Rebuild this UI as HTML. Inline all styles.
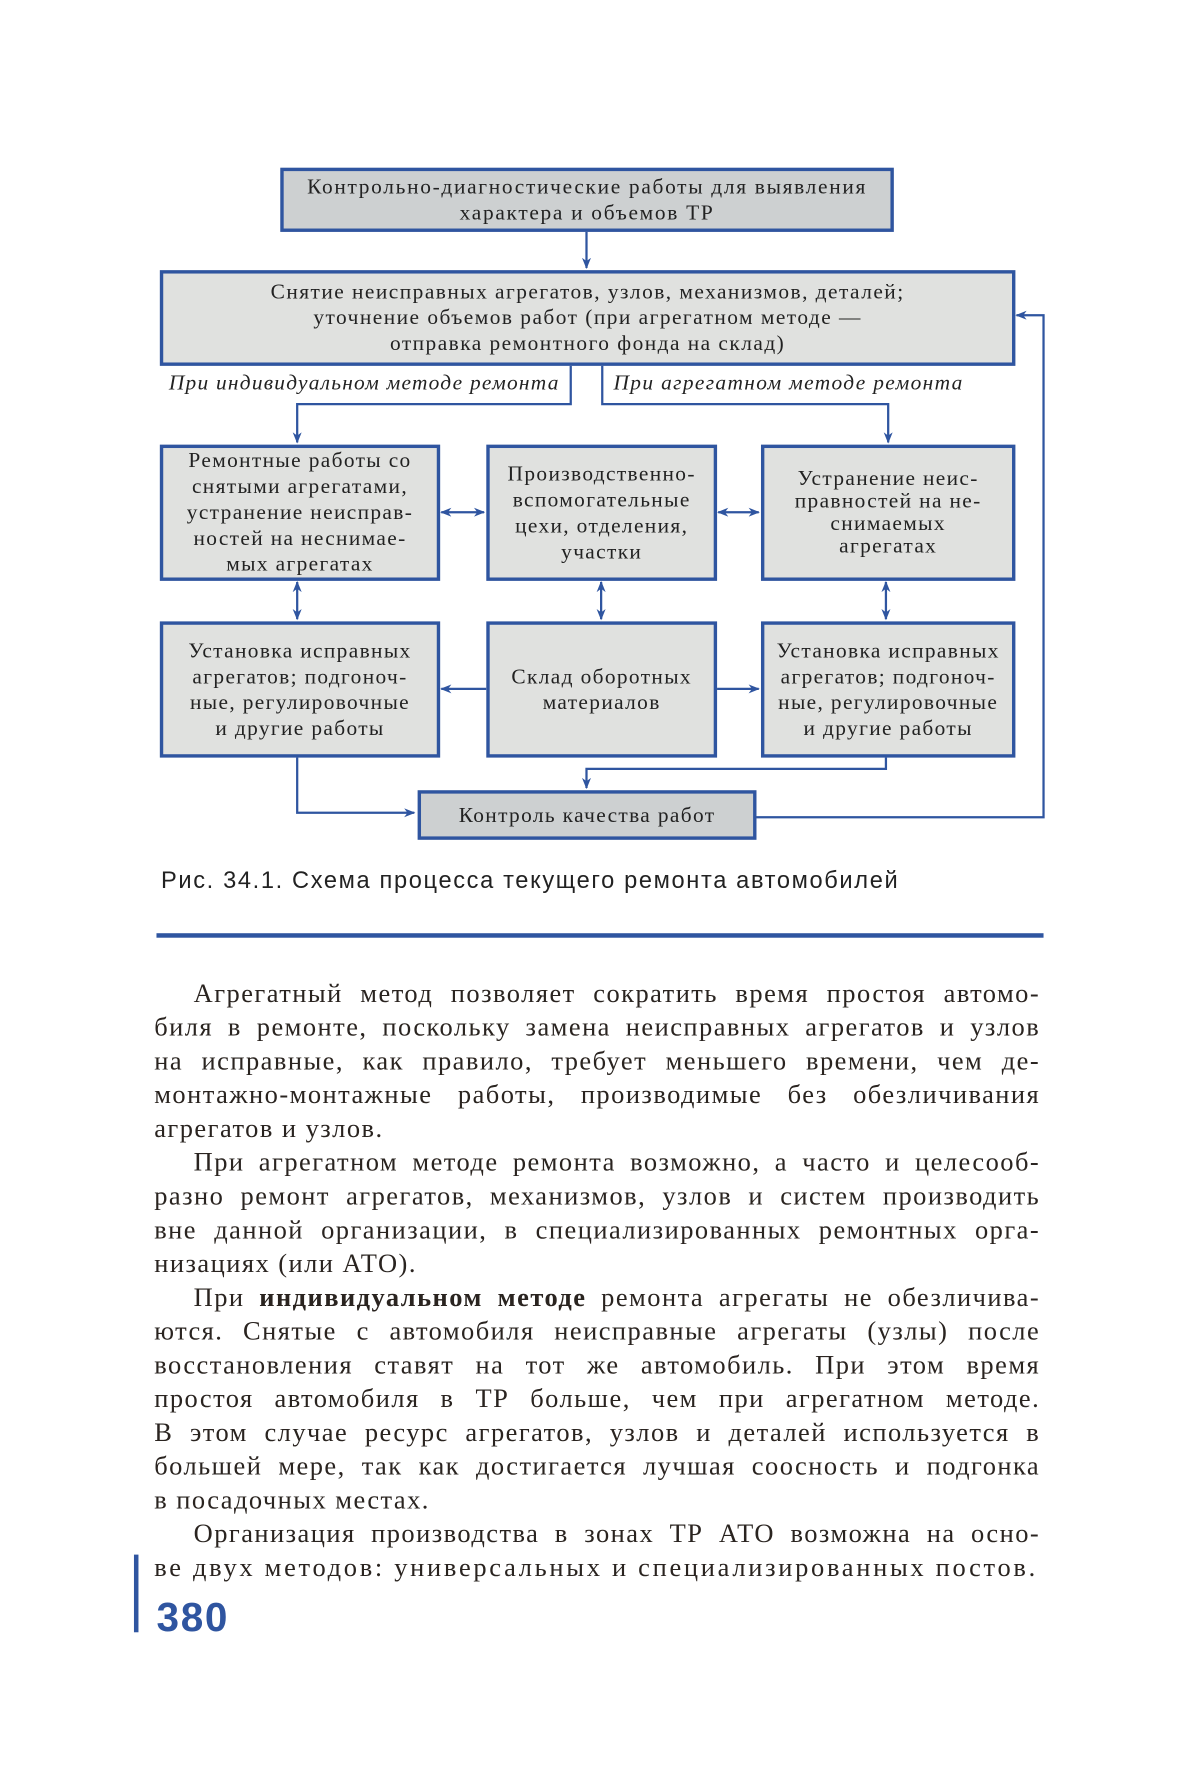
<!DOCTYPE html>
<html><head><meta charset="utf-8"><style>
html,body{margin:0;padding:0;background:#fff;width:1182px;height:1772px;overflow:hidden}
#w{position:absolute;left:0;top:0;width:1050px;height:1574px;transform:scale(1.12571);transform-origin:0 0}
.b{position:absolute;box-sizing:border-box;border:3px solid #2f55a0;background:#e0e1df;display:flex;align-items:center;justify-content:center;text-align:center;font-family:"Liberation Serif",serif;font-size:19px;line-height:23px;color:#222;letter-spacing:1.2px;white-space:nowrap}
.d{background:#cdd0d1}
.t{position:absolute;font-family:"Liberation Serif",serif;color:#222;white-space:nowrap}
.l{position:absolute;left:137px;width:787px;font-family:"Liberation Serif",serif;font-size:23.5px;letter-spacing:1.3px;color:#2a2420;text-align:justify;text-align-last:justify;white-space:nowrap;height:30px;line-height:30px}
.l.e{text-align-last:left}
.i{padding-left:35px;box-sizing:border-box}
</style></head><body><div id="w">
<svg width="1050" height="1574" style="position:absolute;left:0;top:0" fill="none" stroke="#2f55a0" stroke-width="2">
<defs><marker id="a" markerWidth="10" markerHeight="8" refX="9" refY="4" orient="auto-start-reverse" markerUnits="userSpaceOnUse"><path d="M0,0 L10,4 L0,8 L3,4Z" fill="#2f55a0" stroke="none"/></marker></defs>
<path d="M521 205 V238" marker-end="url(#a)"/>
<path d="M507 324 V359 H264 V393" marker-end="url(#a)"/>
<path d="M535 324 V359 H789 V393" marker-end="url(#a)"/>
<path d="M392 455 H430" marker-start="url(#a)" marker-end="url(#a)"/>
<path d="M638 455 H674" marker-start="url(#a)" marker-end="url(#a)"/>
<path d="M264 517 V550" marker-start="url(#a)" marker-end="url(#a)"/>
<path d="M534 517 V550" marker-start="url(#a)" marker-end="url(#a)"/>
<path d="M787 517 V550" marker-start="url(#a)" marker-end="url(#a)"/>
<path d="M432 612 H392" marker-end="url(#a)"/>
<path d="M636 612 H674" marker-end="url(#a)"/>
<path d="M787 672 V683 H521 V700" marker-end="url(#a)"/>
<path d="M264 672 V722 H368" marker-end="url(#a)"/>
<path d="M671 726 H927 V280 H903" marker-end="url(#a)"/>
</svg>
<div class="b d" style="left:249px;top:149px;width:545px;height:57px;letter-spacing:1.5px">Контрольно-диагностические работы для выявления<br>характера и объемов ТР</div>
<div class="b" style="left:142px;top:240px;width:760px;height:85px;letter-spacing:1.3px">Снятие неисправных агрегатов, узлов, механизмов, деталей;<br>уточнение объемов работ (при агрегатном методе —<br>отправка ремонтного фонда на склад)</div>
<div class="t" style="left:150px;top:330px;font-size:19px;font-style:italic;letter-spacing:1.1px">При индивидуальном методе ремонта</div>
<div class="t" style="left:545px;top:330px;font-size:19px;font-style:italic;letter-spacing:1.2px">При агрегатном методе ремонта</div>
<div class="b" style="left:142px;top:395px;width:249px;height:121px">Ремонтные работы со<br>снятыми агрегатами,<br>устранение неисправ-<br>ностей на неснимае-<br>мых агрегатах</div>
<div class="b" style="left:432px;top:395px;width:205px;height:121px">Производственно-<br>вспомогательные<br>цехи, отделения,<br>участки</div>
<div class="b" style="left:676px;top:395px;width:226px;height:121px;line-height:20px">Устранение неис-<br>правностей на не-<br>снимаемых<br>агрегатах</div>
<div class="b" style="left:142px;top:552px;width:249px;height:121px">Установка исправных<br>агрегатов; подгоноч-<br>ные, регулировочные<br>и другие работы</div>
<div class="b" style="left:432px;top:552px;width:205px;height:121px">Склад оборотных<br>материалов</div>
<div class="b" style="left:676px;top:552px;width:226px;height:121px">Установка исправных<br>агрегатов; подгоноч-<br>ные, регулировочные<br>и другие работы</div>
<div class="b d" style="left:371px;top:702px;width:301px;height:44px">Контроль качества работ</div>
<div class="t" style="left:143px;top:771px;font-family:'Liberation Sans',sans-serif;font-size:21px;letter-spacing:1.45px;color:#222">Рис. 34.1. Схема процесса текущего ремонта автомобилей</div>
<div style="position:absolute;left:139px;top:829px;width:788px;height:4px;background:#2f55a0"></div>
<div class="l i" style="top:868px">Агрегатный метод позволяет сократить время простоя автомо-</div>
<div class="l" style="top:898px">биля в ремонте, поскольку замена неисправных агрегатов и узлов</div>
<div class="l" style="top:928px">на исправные, как правило, требует меньшего времени, чем де-</div>
<div class="l" style="top:958px">монтажно-монтажные работы, производимые без обезличивания</div>
<div class="l e" style="top:988px">агрегатов и узлов.</div>
<div class="l i" style="top:1018px">При агрегатном методе ремонта возможно, а часто и целесооб-</div>
<div class="l" style="top:1048px">разно ремонт агрегатов, механизмов, узлов и систем производить</div>
<div class="l" style="top:1078px">вне данной организации, в специализированных ремонтных орга-</div>
<div class="l e" style="top:1108px">низациях (или АТО).</div>
<div class="l i" style="top:1138px">При <b>индивидуальном методе</b> ремонта агрегаты не обезличива-</div>
<div class="l" style="top:1168px">ются. Снятые с автомобиля неисправные агрегаты (узлы) после</div>
<div class="l" style="top:1198px">восстановления ставят на тот же автомобиль. При этом время</div>
<div class="l" style="top:1228px">простоя автомобиля в ТР больше, чем при агрегатном методе.</div>
<div class="l" style="top:1258px">В этом случае ресурс агрегатов, узлов и деталей используется в</div>
<div class="l" style="top:1288px">большей мере, так как достигается лучшая соосность и подгонка</div>
<div class="l e" style="top:1318px">в посадочных местах.</div>
<div class="l i" style="top:1348px">Организация производства в зонах ТР АТО возможна на осно-</div>
<div class="l e" style="top:1378px;letter-spacing:2.4px">ве двух методов: универсальных и специализированных постов.</div>
<div style="position:absolute;left:119px;top:1381px;width:4px;height:69px;background:#2f55a0"></div>
<div class="t" style="left:139px;top:1416px;font-family:'Liberation Sans',sans-serif;font-weight:bold;font-size:36px;letter-spacing:1.5px;color:#2f55a0">380</div>
</div></body></html>
